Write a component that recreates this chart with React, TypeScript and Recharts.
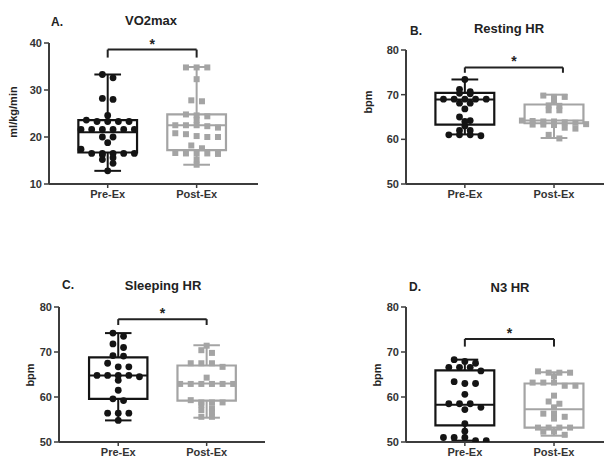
import React from "react";
import { ComposedChart, Scatter, XAxis, YAxis, ReferenceArea, ReferenceLine } from "recharts";

const groups = ["Pre-Ex", "Post-Ex"];
const vo2Ticks = [10, 20, 30, 40];
const hrTicks = [50, 60, 70, 80];

// individual subjects
const vo2Pre = [33.3, 32.6, 28.2, 28.0, 24.6, 23.6, 23.3, 23.3, 23.3, 23.3, 21.6, 21.6, 21.6, 21.6, 21.6, 21.6, 20.0, 20.0, 18.8, 17.4, 16.5, 16.5, 16.5, 16.5, 16.5, 16.2, 15.6, 15.2, 14.4, 12.8];
const vo2Post = [34.8, 34.8, 34.8, 32.3, 27.8, 27.6, 24.8, 24.6, 24.4, 23.6, 22.5, 22.5, 22.5, 22.3, 22.0, 20.8, 20.6, 20.2, 20.0, 20.0, 18.2, 17.6, 16.6, 16.5, 16.5, 16.5, 16.4, 15.2, 14.1];
const restPre = [73.4, 71.2, 70.7, 70.3, 70.2, 69.0, 69.0, 69.0, 69.0, 69.0, 68.1, 68.1, 66.8, 65.0, 64.2, 64.0, 63.0, 62.0, 62.0, 61.0, 61.0, 61.0, 60.8];
const restPost = [69.8, 69.5, 69.5, 68.6, 67.6, 67.5, 66.5, 66.5, 64.2, 64.1, 64.0, 64.0, 63.8, 63.7, 63.4, 63.3, 63.3, 63.2, 62.6, 62.4, 61.0, 60.2];
const sleepPre = [74.2, 73.5, 71.8, 71.0, 69.2, 69.1, 67.5, 66.7, 66.7, 64.8, 64.8, 64.8, 64.8, 64.5, 63.7, 61.5, 59.6, 59.2, 56.4, 56.4, 56.4, 54.8];
const sleepPost = [71.4, 70.4, 69.8, 67.5, 67.5, 67.5, 66.7, 64.3, 62.9, 62.9, 62.9, 62.9, 62.9, 62.9, 59.3, 58.8, 58.8, 58.8, 58.3, 57.5, 57.1, 56.7, 55.6, 55.6];
const n3Pre = [68.3, 67.9, 67.5, 66.6, 66.6, 66.6, 65.8, 63.4, 63.0, 63.0, 60.6, 58.5, 58.5, 58.5, 57.7, 57.2, 54.1, 52.4, 51.0, 51.0, 51.0, 50.3, 50.3];
const n3Post = [65.7, 65.4, 65.4, 65.4, 64.6, 63.2, 63.2, 63.2, 62.5, 62.5, 60.3, 59.0, 58.5, 57.7, 56.3, 56.3, 55.6, 55.2, 53.2, 53.2, 53.2, 53.2, 52.3, 52.3, 51.6];

// box stats: min, q1, median, q3, max
const vo2PreBox = [12.8, 16.7, 21.0, 23.6, 33.3];
const vo2PostBox = [14.1, 17.2, 22.5, 24.8, 34.9];
const restPreBox = [61.1, 63.3, 68.9, 70.4, 73.4];
const restPostBox = [60.3, 63.6, 64.2, 67.8, 70.0];
const sleepPreBox = [54.8, 59.6, 64.8, 68.8, 74.2];
const sleepPostBox = [55.4, 59.2, 63.0, 67.0, 71.5];
const n3PreBox = [50.3, 53.7, 58.3, 65.9, 68.3];
const n3PostBox = [51.4, 53.2, 57.3, 63.0, 65.5];

// significance bracket level and drop, per panel
const vo2Bracket = [38.6, 36.9];
const restBracket = [76.1, 74.9];
const sleepBracket = [77.3, 76.0];
const n3Bracket = [72.9, 71.2];

const PRE = "#141414";
const POST = "#a4a4a4";
const AXIS = "#3c3c3c";
const FONT = "'Liberation Sans', Arial, sans-serif";

// column scatter: points with close values share a row and spread sideways
function swarm(values: number[], center: number, tol: number) {
  const sorted = [...values].sort((a, b) => b - a);
  const out: { x: number; y: number }[] = [];
  let i = 0;
  while (i < sorted.length) {
    let j = i;
    while (j < sorted.length && sorted[i] - sorted[j] <= tol) j++;
    const n = j - i;
    for (let k = 0; k < n; k++) out.push({ x: center + (k - (n - 1) / 2) * 0.12, y: sorted[i + k] });
    i = j;
  }
  return out;
}

const circle = (p: any) => <circle cx={p.cx} cy={p.cy} r={3.4} fill={PRE} />;
const square = (p: any) => <rect x={p.cx - 3} y={p.cy - 3} width={6} height={6} fill={POST} />;

function boxMarks(c: number, b: number[], color: string, key: string) {
  const [min, q1, med, q3, max] = b;
  const w = 0.33;
  const cap = 0.15;
  const line = { stroke: color, strokeWidth: 2 };
  return [
    <ReferenceArea key={key + "box"} x1={c - w} x2={c + w} y1={q1} y2={q3} fill="none" stroke={color} strokeWidth={2.2} />,
    <ReferenceLine key={key + "med"} segment={[{ x: c - w, y: med }, { x: c + w, y: med }]} {...line} />,
    <ReferenceLine key={key + "wt"} segment={[{ x: c, y: q3 }, { x: c, y: max }]} {...line} />,
    <ReferenceLine key={key + "wb"} segment={[{ x: c, y: min }, { x: c, y: q1 }]} {...line} />,
    <ReferenceLine key={key + "ct"} segment={[{ x: c - cap, y: max }, { x: c + cap, y: max }]} {...line} />,
    <ReferenceLine key={key + "cb"} segment={[{ x: c - cap, y: min }, { x: c + cap, y: min }]} {...line} />,
  ];
}

function bracketMarks(br: number[], x2: number) {
  const line = { stroke: "#222", strokeWidth: 2 };
  return [
    <ReferenceLine key="bh" segment={[{ x: 1, y: br[0] }, { x: x2, y: br[0] }]} {...line}
      label={{ value: "*", position: "top", offset: 1, fill: "#222", fontSize: 14, fontWeight: 700, fontFamily: FONT }} />,
    <ReferenceLine key="bl" segment={[{ x: 1, y: br[0] }, { x: 1, y: br[1] }]} {...line} />,
    <ReferenceLine key="br" segment={[{ x: x2, y: br[0] }, { x: x2, y: br[1] }]} {...line} />,
  ];
}

const tickStyle = { fill: "#333", fontSize: 11, fontWeight: 700, fontFamily: FONT };

function Panel(props: any) {
  const { left, top, width, height, mTop, mRight, yWidth, xHeight, xDomain, yDomain, yTicks, pre, post, preBox, postBox, bracket, bracketEnd } = props;
  const prePts = swarm(pre, 1, 0.9);
  const postPts = swarm(post, 2, 0.9);
  return (
    <div style={{ position: "absolute", left, top }}>
      <ComposedChart width={width} height={height} margin={{ top: mTop, right: mRight, bottom: 0, left: 0 }}>
        <XAxis type="number" dataKey="x" domain={xDomain} ticks={[1, 2]} interval={0} allowDataOverflow
          tickFormatter={(v: number) => groups[v - 1]} height={xHeight} tickSize={4}
          axisLine={{ stroke: AXIS, strokeWidth: 2 }} tickLine={{ stroke: AXIS, strokeWidth: 1.5 }} tick={tickStyle} />
        <YAxis type="number" dataKey="y" domain={yDomain} ticks={yTicks} interval={0} allowDataOverflow
          width={yWidth} tickSize={5}
          axisLine={{ stroke: AXIS, strokeWidth: 2 }} tickLine={{ stroke: AXIS, strokeWidth: 1.5 }} tick={tickStyle} />
        {boxMarks(1, preBox, PRE, "pre")}
        {boxMarks(2, postBox, POST, "post")}
        {bracketMarks(bracket, bracketEnd)}
        <Scatter data={prePts} dataKey="y" shape={circle} isAnimationActive={false} />
        <Scatter data={postPts} dataKey="y" shape={square} isAnimationActive={false} />
      </ComposedChart>
    </div>
  );
}

function Txt({ x, y, size, children, rotate }: any) {
  return (
    <div style={{
      position: "absolute", left: x, top: y, transform: `translate(-50%, -50%)${rotate ? " rotate(-90deg)" : ""}`,
      fontFamily: FONT, fontWeight: 700, fontSize: size, color: "#222", whiteSpace: "nowrap", lineHeight: 1,
    }}>{children}</div>
  );
}

export default function App() {
  return (
    <div style={{ position: "fixed", left: 0, top: 0, width: 604, height: 461, overflow: "hidden", background: "#fff" }}>
      <Panel left={0} top={0} width={270} height={215} mTop={43} mRight={12} yWidth={49} xHeight={31}
        xDomain={[0.34, 2.69]} yDomain={[10, 40]} yTicks={vo2Ticks} pre={vo2Pre} post={vo2Post}
        preBox={vo2PreBox} postBox={vo2PostBox} bracket={vo2Bracket} bracketEnd={2} />
      <Panel left={360} top={0} width={260} height={215} mTop={50} mRight={0} yWidth={46} xHeight={31}
        xDomain={[0.34, 2.74]} yDomain={[50, 80]} yTicks={hrTicks} pre={restPre} post={restPost}
        preBox={restPreBox} postBox={restPostBox} bracket={restBracket} bracketEnd={2.1} />
      <Panel left={0} top={262} width={277} height={215} mTop={45} mRight={12} yWidth={59} xHeight={35}
        xDomain={[0.33, 2.66]} yDomain={[50, 80]} yTicks={hrTicks} pre={sleepPre} post={sleepPost}
        preBox={sleepPreBox} postBox={sleepPostBox} bracket={sleepBracket} bracketEnd={2} />
      <Panel left={360} top={262} width={260} height={215} mTop={45} mRight={0} yWidth={46} xHeight={35}
        xDomain={[0.34, 2.74]} yDomain={[50, 80]} yTicks={hrTicks} pre={n3Pre} post={n3Post}
        preBox={n3PreBox} postBox={n3PostBox} bracket={n3Bracket} bracketEnd={2} />

      <Txt x={57} y={22} size={12}>A.</Txt>
      <Txt x={151} y={20} size={13}>VO2max</Txt>
      <Txt x={13} y={112} size={11} rotate>ml/kg/min</Txt>

      <Txt x={416} y={31} size={12}>B.</Txt>
      <Txt x={509} y={28} size={13}>Resting HR</Txt>
      <Txt x={368} y={102} size={11} rotate>bpm</Txt>

      <Txt x={68} y={285} size={12}>C.</Txt>
      <Txt x={163} y={285} size={13}>Sleeping HR</Txt>
      <Txt x={30} y={375} size={11} rotate>bpm</Txt>

      <Txt x={415} y={287} size={12}>D.</Txt>
      <Txt x={510} y={287} size={13}>N3 HR</Txt>
      <Txt x={377} y={375} size={11} rotate>bpm</Txt>
    </div>
  );
}
